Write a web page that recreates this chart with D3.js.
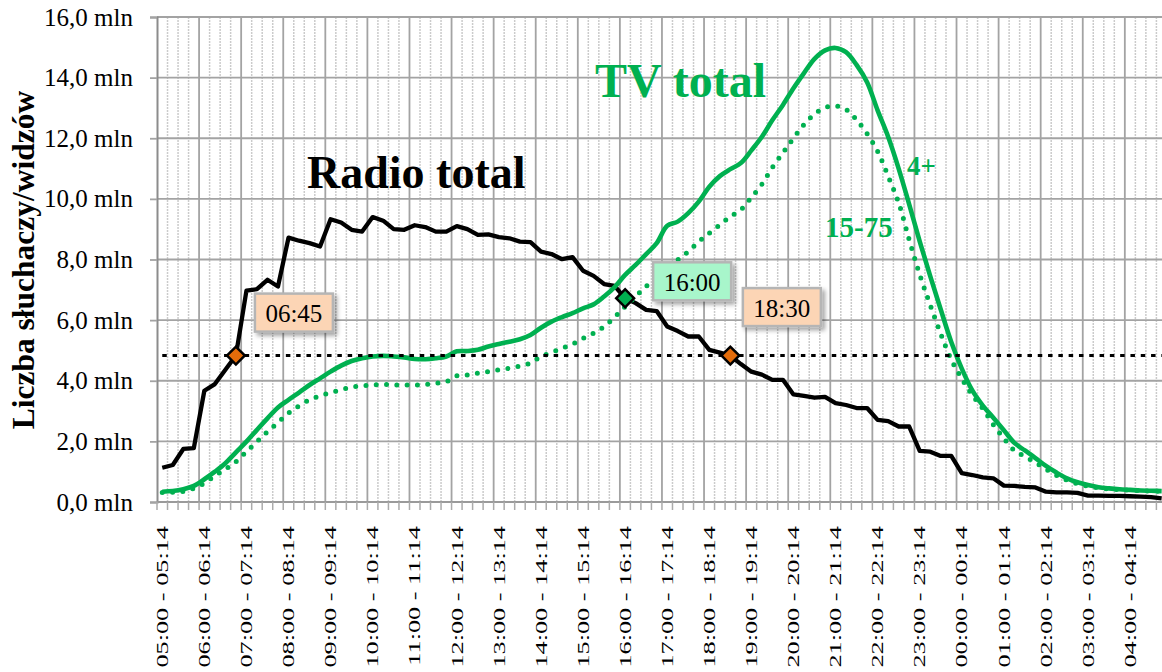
<!DOCTYPE html>
<html>
<head>
<meta charset="utf-8">
<script src="https://cdn.jsdelivr.net/npm/d3@7"></script>
<style>
  html, body { margin: 0; padding: 0; background: #fff; }
  svg { display: block; font-family: "Liberation Serif", "Times New Roman", serif; }
</style>
</head>
<body>
<svg id="chart" width="1162" height="672"></svg>
<script>
// ---------------- data ----------------
const hourLabels = ["05:00 - 05:14","06:00 - 06:14","07:00 - 07:14","08:00 - 08:14","09:00 - 09:14","10:00 - 10:14",
  "11:00 - 11:14","12:00 - 12:14","13:00 - 13:14","14:00 - 14:14","15:00 - 15:14","16:00 - 16:14",
  "17:00 - 17:14","18:00 - 18:14","19:00 - 19:14","20:00 - 20:14","21:00 - 21:14","22:00 - 22:14",
  "23:00 - 23:14","00:00 - 00:14","01:00 - 01:14","02:00 - 02:14","03:00 - 03:14","04:00 - 04:14"];
const slotsPerHour = 4;
const categories = hourLabels.flatMap((h, k) => [0,1,2,3].map(q => ({hour: k, quarter: q, label: q === 0 ? h : ""})));

const radioTotal = [1.13,1.22,1.75,1.78,3.67,3.89,4.36,4.83,6.97,7.02,7.33,7.11,8.72,8.62,8.54,8.43,
  9.33,9.22,8.98,8.92,9.40,9.28,9.00,8.98,9.13,9.07,8.92,8.92,9.10,9.00,8.81,8.83,
  8.74,8.70,8.59,8.57,8.26,8.18,8.01,8.08,7.63,7.46,7.19,7.13,6.72,6.56,6.34,6.30,
  5.79,5.64,5.46,5.46,5.02,4.93,4.83,4.55,4.30,4.20,4.03,4.03,3.55,3.50,3.44,3.47,
  3.26,3.20,3.10,3.10,2.71,2.67,2.49,2.49,1.69,1.66,1.52,1.52,0.95,0.89,0.81,0.78,
  0.54,0.53,0.50,0.48,0.34,0.32,0.32,0.30,0.21,0.21,0.20,0.20,0.19,0.18,0.16,0.12];

const tvTotal4plus = [0.34,0.36,0.42,0.53,0.75,1.00,1.28,1.64,1.99,2.38,2.76,3.12,3.37,3.61,3.86,4.08,
  4.30,4.50,4.65,4.74,4.80,4.82,4.80,4.77,4.72,4.71,4.74,4.80,4.97,4.98,5.02,5.13,
  5.21,5.29,5.37,5.51,5.75,5.95,6.10,6.23,6.39,6.52,6.78,7.09,7.49,7.82,8.18,8.54,
  9.11,9.25,9.53,9.91,10.40,10.75,10.98,11.18,11.60,12.05,12.60,13.10,13.65,14.15,14.62,14.90,
  14.98,14.84,14.42,13.85,12.92,12.05,11.00,9.82,8.60,7.45,6.35,5.28,4.40,3.68,3.18,2.78,
  2.37,1.95,1.70,1.45,1.19,0.97,0.78,0.65,0.56,0.49,0.45,0.42,0.40,0.38,0.37,0.36];

const tvTotal1575 = [0.31,0.32,0.35,0.45,0.62,0.86,1.08,1.33,1.66,1.99,2.32,2.62,2.93,3.17,3.37,3.50,
  3.61,3.70,3.79,3.83,3.86,3.88,3.86,3.86,3.86,3.88,3.92,3.97,4.16,4.19,4.25,4.30,
  4.36,4.41,4.49,4.58,4.80,4.93,5.07,5.21,5.40,5.57,5.79,6.10,6.45,6.78,7.11,7.38,
  7.77,7.99,8.26,8.59,8.87,9.14,9.42,9.64,10.05,10.48,11.04,11.52,12.00,12.45,12.80,13.01,
  13.07,12.95,12.61,12.15,11.57,10.75,9.87,8.65,7.50,6.50,5.55,4.70,4.07,3.53,3.08,2.55,
  2.10,1.70,1.50,1.30,1.08,0.88,0.72,0.60,0.52,0.47,0.43,0.41,0.39,0.37,0.36,0.35];

const thresholdValue = 4.83;
const yTickValues = [0,2,4,6,8,10,12,14,16];

const markerIndex  = [7, 44, 54];
const markerLabel  = ["06:45", "16:00", "18:30"];
const markerFill   = ["#E46C0A", "#00B050", "#E46C0A"];
const markerBoxFill = ["#FCD5B5", "#A8F6CB", "#FCD5B5"];

// ---------------- layout ----------------
const svg = d3.select("#chart");
const plotLeft = 157, plotTop = 17, plotBottom = 502;
const nCat = categories.length;
const stepGuess = 10.52;
const plotRight = plotLeft + nCat * stepGuess;

const x = d3.scaleBand().domain(d3.range(nCat)).range([plotLeft, plotRight]).padding(0);
const cx = i => x(i) + x.bandwidth() / 2;
const y = d3.scaleLinear().domain([0, 16]).range([plotBottom, plotTop]);

const green = "#00B050";
const gridGray = "#A3A3A3";

// defs
const defs = svg.append("defs");
const f = defs.append("filter").attr("id", "shadow").attr("x", "-20%").attr("y", "-20%").attr("width", "150%").attr("height", "160%");
f.append("feDropShadow").attr("dx", 3).attr("dy", 3).attr("stdDeviation", 2).attr("flood-color", "#000").attr("flood-opacity", 0.35);

// minor vertical gridlines (15-minute)
const boundaries = d3.range(1, nCat + 1);
svg.append("g").selectAll("line")
  .data(boundaries.filter(i => i % slotsPerHour !== 0))
  .join("line")
  .attr("x1", i => plotLeft + i * x.step()).attr("x2", i => plotLeft + i * x.step())
  .attr("y1", plotTop).attr("y2", plotBottom)
  .attr("stroke", "#CBCBCB").attr("stroke-width", 1.5).attr("stroke-dasharray", "2 1");

// major vertical gridlines (hourly)
svg.append("g").selectAll("line")
  .data(boundaries.filter(i => i % slotsPerHour === 0))
  .join("line")
  .attr("x1", i => plotLeft + i * x.step()).attr("x2", i => plotLeft + i * x.step())
  .attr("y1", plotTop).attr("y2", plotBottom)
  .attr("stroke", gridGray).attr("stroke-width", 1.8);

// horizontal gridlines
svg.append("g").selectAll("line")
  .data(yTickValues)
  .join("line")
  .attr("x1", plotLeft).attr("x2", plotRight)
  .attr("y1", d => y(d)).attr("y2", d => y(d))
  .attr("stroke", gridGray).attr("stroke-width", 1.8);

// y axis
const yAxis = d3.axisLeft(y).tickValues(yTickValues).tickSize(7).tickPadding(17)
  .tickFormat(d => d3.format(".1f")(d).replace(".", ",") + " mln");
const gy = svg.append("g").attr("transform", `translate(${plotLeft},0)`).call(yAxis);
gy.select(".domain").attr("stroke", "#8C8C8C").attr("stroke-width", 2);
gy.selectAll(".tick line").attr("stroke", gridGray).attr("stroke-width", 1.8);
gy.selectAll(".tick text").attr("font-size", 25).attr("fill", "#000")
  .attr("font-family", "'Liberation Serif', 'Times New Roman', serif");

// x axis line + ticks
svg.append("line").attr("x1", plotLeft).attr("x2", plotRight)
  .attr("y1", plotBottom).attr("y2", plotBottom).attr("stroke", "#9A9A9A").attr("stroke-width", 2);
svg.append("g").selectAll("line")
  .data(d3.range(0, nCat + 1))
  .join("line")
  .attr("x1", i => plotLeft + i * x.step()).attr("x2", i => plotLeft + i * x.step())
  .attr("y1", plotBottom).attr("y2", plotBottom + 8)
  .attr("stroke", "#ABABAB").attr("stroke-width", 1.5);

// x labels (hourly), rotated
svg.append("g").selectAll("text")
  .data(categories.map((c, i) => ({...c, i})).filter(c => c.label))
  .join("text")
  .attr("transform", c => `translate(${cx(c.i)},526) rotate(-90) scale(1,0.64)`)
  .attr("text-anchor", "end")
  .attr("dominant-baseline", "central")
  .attr("font-size", 26.3)
  .attr("fill", "#000")
  .text(c => c.label);

// y axis title
svg.append("text")
  .attr("transform", "translate(34,260) rotate(-90)")
  .attr("text-anchor", "middle")
  .attr("font-size", 31.5)
  .attr("font-weight", "bold")
  .text("Liczba słuchaczy/widzów");

// lines
const lineLinear = d3.line().x((d, i) => cx(i)).y(d => y(d));
const lineSmooth = d3.line().x((d, i) => cx(i)).y(d => y(d)).curve(d3.curveCatmullRom.alpha(0.5));

const clip = defs.append("clipPath").attr("id", "clip");
clip.append("rect").attr("x", plotLeft).attr("y", 0).attr("width", plotRight - plotLeft).attr("height", plotBottom + 2);

const plot = svg.append("g").attr("clip-path", "url(#clip)");

plot.append("path").datum(radioTotal)
  .attr("d", lineLinear).attr("fill", "none").attr("stroke", "#000")
  .attr("stroke-width", 4.3).attr("stroke-linejoin", "round");

plot.append("path").datum(tvTotal1575)
  .attr("d", lineSmooth).attr("fill", "none").attr("stroke", green)
  .attr("stroke-width", 5).attr("stroke-linecap", "round").attr("stroke-dasharray", "0 10.3");

plot.append("path").datum(tvTotal4plus)
  .attr("d", lineSmooth).attr("fill", "none").attr("stroke", green)
  .attr("stroke-width", 4.6).attr("stroke-linejoin", "round");

// threshold dotted line
plot.append("line")
  .attr("x1", cx(0)).attr("x2", plotRight)
  .attr("y1", y(thresholdValue)).attr("y2", y(thresholdValue))
  .attr("stroke", "#000").attr("stroke-width", 3).attr("stroke-dasharray", "4.5 5.8");

// markers
const markers = markerIndex.map((idx, k) => ({
  idx, label: markerLabel[k], fill: markerFill[k], box: markerBoxFill[k],
  px: cx(idx), py: y(radioTotal[idx])
}));
svg.append("g").selectAll("path")
  .data(markers)
  .join("path")
  .attr("d", d3.symbol(d3.symbolSquare, 160)())
  .attr("transform", d => `translate(${d.px},${d.py}) rotate(45)`)
  .attr("fill", d => d.fill).attr("stroke", "#000").attr("stroke-width", 2.5);

// label boxes (offset from their markers)
const boxOffset = [[19, -62], [28, -36], [12.5, -67.5]];
const boxW = 78, boxH = 38;
const boxes = svg.append("g").selectAll("g")
  .data(markers)
  .join("g")
  .attr("transform", (d, k) => `translate(${d.px + boxOffset[k][0]},${d.py + boxOffset[k][1]})`);
boxes.append("rect")
  .attr("width", boxW).attr("height", boxH)
  .attr("fill", d => d.box).attr("stroke", "#B5B5B5").attr("stroke-width", 2.5)
  .attr("filter", "url(#shadow)");
boxes.append("text")
  .attr("x", boxW / 2).attr("y", boxH / 2 + 1)
  .attr("text-anchor", "middle").attr("dominant-baseline", "central")
  .attr("font-size", 25).attr("fill", "#000")
  .text(d => d.label);

// series annotations
svg.append("text").attr("x", 307).attr("y", 188)
  .attr("font-size", 46).attr("font-weight", "bold").attr("fill", "#000").text("Radio total");
svg.append("text").attr("x", 595).attr("y", 97)
  .attr("font-size", 48).attr("font-weight", "bold").attr("fill", green).text("TV total");
svg.append("text").attr("x", 907).attr("y", 175)
  .attr("font-size", 27).attr("font-weight", "bold").attr("fill", green).text("4+");
svg.append("text").attr("x", 825).attr("y", 237)
  .attr("font-size", 29).attr("font-weight", "bold").attr("fill", green).text("15-75");
</script>
</body>
</html>
